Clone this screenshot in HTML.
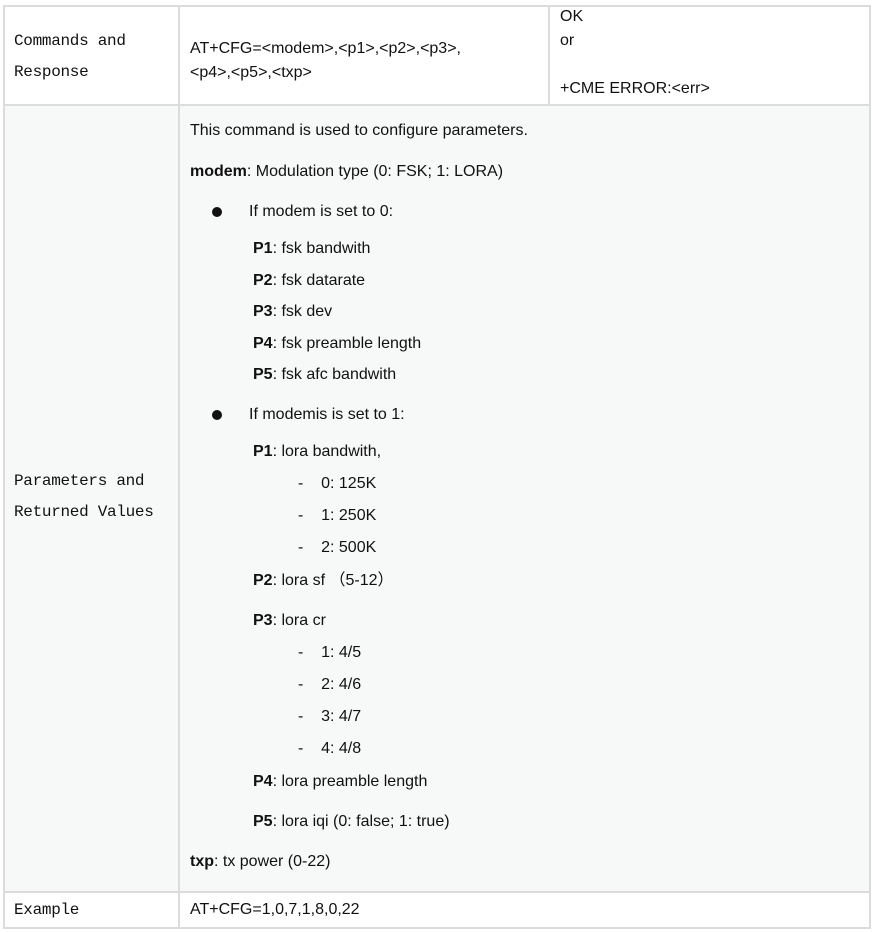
<!DOCTYPE html>
<html><head><meta charset="utf-8"><style>
body{margin:0;width:875px;height:933px;background:#fff;position:relative;font-family:"Liberation Sans",Arial,sans-serif;color:#111;overflow:hidden}
.b{position:absolute;background:#dcdcdc}
.t{position:absolute;font-size:16px;line-height:20px;white-space:nowrap}
.m{position:absolute;font-family:"Liberation Mono",monospace;font-size:16px;line-height:20px;white-space:nowrap;letter-spacing:-0.3px}
.d{position:absolute;width:10px;height:10px;border-radius:50%;background:#111}
b{font-weight:bold}
</style></head><body>
<div style="position:absolute;left:4px;top:105px;width:866px;height:786px;background:#f7f8f8"></div>
<div class="b" style="left:3px;top:5px;width:868px;height:2px"></div>
<div class="b" style="left:3px;top:104px;width:868px;height:2px"></div>
<div class="b" style="left:3px;top:891px;width:868px;height:2px"></div>
<div class="b" style="left:3px;top:927px;width:868px;height:2px"></div>
<div class="b" style="left:3px;top:5px;width:2px;height:924px"></div>
<div class="b" style="left:869px;top:5px;width:2px;height:924px"></div>
<div class="b" style="left:178px;top:5px;width:2px;height:924px"></div>
<div class="b" style="left:548px;top:5px;width:2px;height:100px"></div>

<div class="m" style="left:14px;top:31px">Commands and</div>
<div class="m" style="left:14px;top:62px">Response</div>
<div class="t" style="left:190px;top:39px">AT+CFG=&lt;modem&gt;,&lt;p1&gt;,&lt;p2&gt;,&lt;p3&gt;,</div>
<div class="t" style="left:190px;top:63px">&lt;p4&gt;,&lt;p5&gt;,&lt;txp&gt;</div>
<div class="t" style="left:560px;top:7px">OK</div>
<div class="t" style="left:560px;top:31px">or</div>
<div class="t" style="left:560px;top:79px">+CME ERROR:&lt;err&gt;</div>

<div class="m" style="left:14px;top:471px">Parameters and</div>
<div class="m" style="left:14px;top:502px">Returned Values</div>

<div class="t" style="left:190px;top:121px">This command is used to configure parameters.</div>
<div class="t" style="left:190px;top:162px"><b>modem</b>: Modulation type (0: FSK; 1: LORA)</div>
<div class="d" style="left:212px;top:207px"></div>
<div class="t" style="left:249px;top:202px">If modem is set to 0:</div>
<div class="t" style="left:253px;top:239px"><b>P1</b>: fsk bandwith</div>
<div class="t" style="left:253px;top:271px"><b>P2</b>: fsk datarate</div>
<div class="t" style="left:253px;top:302px"><b>P3</b>: fsk dev</div>
<div class="t" style="left:253px;top:334px"><b>P4</b>: fsk preamble length</div>
<div class="t" style="left:253px;top:365px"><b>P5</b>: fsk afc bandwith</div>
<div class="d" style="left:212px;top:410px"></div>
<div class="t" style="left:249px;top:405px">If modemis is set to 1:</div>
<div class="t" style="left:253px;top:442px"><b>P1</b>: lora bandwith,</div>
<div class="t" style="left:298px;top:474px">-&nbsp;&nbsp;&nbsp;&nbsp;0: 125K</div>
<div class="t" style="left:298px;top:506px">-&nbsp;&nbsp;&nbsp;&nbsp;1: 250K</div>
<div class="t" style="left:298px;top:538px">-&nbsp;&nbsp;&nbsp;&nbsp;2: 500K</div>
<div class="t" style="left:253px;top:571px"><b>P2</b>: lora sf （5-12）</div>
<div class="t" style="left:253px;top:611px"><b>P3</b>: lora cr</div>
<div class="t" style="left:298px;top:643px">-&nbsp;&nbsp;&nbsp;&nbsp;1: 4/5</div>
<div class="t" style="left:298px;top:675px">-&nbsp;&nbsp;&nbsp;&nbsp;2: 4/6</div>
<div class="t" style="left:298px;top:707px">-&nbsp;&nbsp;&nbsp;&nbsp;3: 4/7</div>
<div class="t" style="left:298px;top:739px">-&nbsp;&nbsp;&nbsp;&nbsp;4: 4/8</div>
<div class="t" style="left:253px;top:772px"><b>P4</b>: lora preamble length</div>
<div class="t" style="left:253px;top:812px"><b>P5</b>: lora iqi (0: false; 1: true)</div>
<div class="t" style="left:190px;top:852px"><b>txp</b>: tx power (0-22)</div>

<div class="m" style="left:14px;top:900px">Example</div>
<div class="t" style="left:190px;top:900px">AT+CFG=1,0,7,1,8,0,22</div>
</body></html>
